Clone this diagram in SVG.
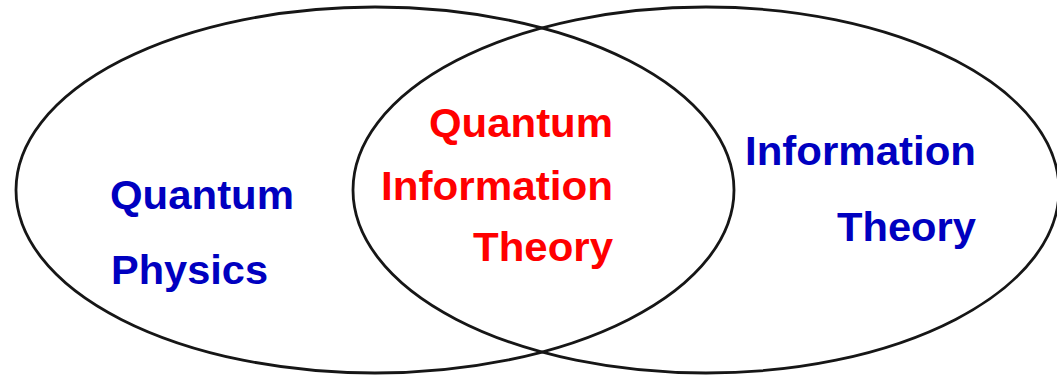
<svg xmlns="http://www.w3.org/2000/svg" width="1057" height="375" viewBox="0 0 1057 375">
<style>
.ring{fill:none;stroke:#161616;stroke-width:2.8}
.t{font-family:"Liberation Sans",Arial,sans-serif;font-weight:bold;font-size:40px}
.blue{fill:#0000c0}
.red{fill:#ff0000}
</style>
<rect width="1057" height="375" fill="#ffffff"/>
<g id="left-set">
<ellipse class="ring" cx="375" cy="190" rx="359" ry="183"/>
<text class="t blue" x="110" y="209" textLength="184" lengthAdjust="spacingAndGlyphs">Quantum</text>
<text class="t blue" x="111" y="284" textLength="157" lengthAdjust="spacingAndGlyphs">Physics</text>
</g>
<g id="right-set">
<ellipse class="ring" cx="706" cy="190" rx="353" ry="183"/>
<text class="t blue" x="745" y="165" textLength="231" lengthAdjust="spacingAndGlyphs">Information</text>
<text class="t blue" x="837" y="241" textLength="139" lengthAdjust="spacingAndGlyphs">Theory</text>
</g>
<g id="intersection">
<text class="t red" x="429" y="137" textLength="184" lengthAdjust="spacingAndGlyphs">Quantum</text>
<text class="t red" x="381" y="200" textLength="232" lengthAdjust="spacingAndGlyphs">Information</text>
<text class="t red" x="473" y="261" textLength="140" lengthAdjust="spacingAndGlyphs">Theory</text>
</g>
<g id="connectors"></g>
</svg>
